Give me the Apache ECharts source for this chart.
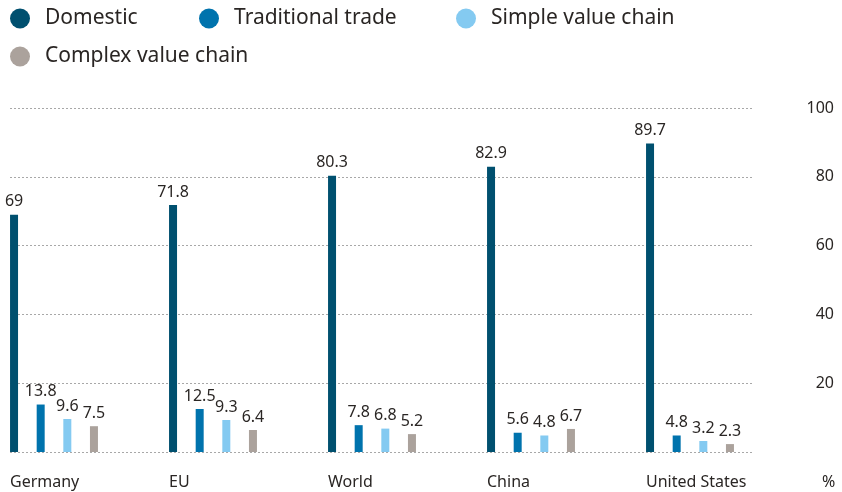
<!DOCTYPE html>
<html><head><meta charset="utf-8">
<script src="https://cdn.jsdelivr.net/npm/echarts@6/dist/echarts.min.js"></script>
<style>html,body{margin:0;padding:0;background:#fff}#c{width:842px;height:492px}</style>
</head><body><div id="c"></div>
<script>
const categories = ['Germany', 'EU', 'World', 'China', 'United States'];
const domestic = [69, 71.8, 80.3, 82.9, 89.7];
const traditionalTrade = [13.8, 12.5, 7.8, 5.6, 4.8];
const simpleValueChain = [9.6, 9.3, 6.8, 4.8, 3.2];
const complexValueChain = [7.5, 6.4, 5.2, 6.7, 2.3];
const yTicks = [0, 20, 40, 60, 80, 100];
const seriesNames = ['Domestic', 'Traditional trade', 'Simple value chain', 'Complex value chain'];
const colors = ['#00506f', '#0073ad', '#84caf1', '#aba29c'];

const FONT = '"Noto Sans", sans-serif';
const TXT = '#2a2624';
const chart = echarts.init(document.getElementById('c'), null, {renderer: 'canvas'});

function legendAt(name, left, top) {
  return {
    data: [name], left: left, top: top, orient: 'horizontal',
    icon: 'circle', itemWidth: 20, itemHeight: 20, padding: 0,
    selectedMode: false,
    textStyle: {fontFamily: FONT, fontSize: 21, color: TXT, padding: [0, 0, 0, 10]}
  };
}

const vals = [domestic, traditionalTrade, simpleValueChain, complexValueChain];
chart.setOption({
  animation: false,
  textStyle: {fontFamily: FONT},
  color: colors,
  title: {text: '%', left: 822, top: 474, textStyle: {fontFamily: FONT, fontSize: 16, fontWeight: 'normal', color: TXT}, padding: 0},
  legend: [
    legendAt(seriesNames[0], 10, 8),
    legendAt(seriesNames[1], 199, 8),
    legendAt(seriesNames[2], 456, 8),
    legendAt(seriesNames[3], 10, 46)
  ],
  grid: [
    {left: 54, width: 636, top: 108, bottom: 40},
    {left: 10, right: 89, top: 108, bottom: 40},
    {left: 10, width: 636, top: 108, bottom: 40}
  ],
  xAxis: [
    {type: 'category', gridIndex: 0, data: categories, boundaryGap: false, axisLine: {show: false}, axisTick: {show: false}, axisLabel: {show: false}},
    {type: 'category', gridIndex: 1, data: categories, show: false},
    {type: 'category', gridIndex: 2, data: categories, boundaryGap: false,
     axisLine: {show: false}, axisTick: {show: false},
     axisLabel: {align: 'left', margin: 22, fontFamily: FONT, fontSize: 16, color: TXT}}
  ],
  yAxis: [
    {type: 'value', gridIndex: 0, min: yTicks[0], max: yTicks[yTicks.length - 1], interval: 20, show: false},
    {type: 'value', gridIndex: 1, min: yTicks[0], max: yTicks[yTicks.length - 1], interval: 20, position: 'right',
     axisLine: {show: false}, axisTick: {show: false},
     splitLine: {show: true, lineStyle: {color: '#a8a8a8', width: 1, type: [2, 2]}},
     axisLabel: {align: 'right', margin: 81, fontFamily: FONT, fontSize: 16, color: TXT,
       formatter: v => v === 0 ? '' : String(v)}},
    {type: 'value', gridIndex: 2, min: 0, max: 100, show: false}
  ],
  series: seriesNames.map((n, i) => ({
    name: n, type: 'bar', xAxisIndex: 0, yAxisIndex: 0, clip: false,
    data: vals[i], barWidth: 8, barGap: '233%',
    itemStyle: {color: colors[i]},
    label: {show: true, position: 'top', distance: 5, fontFamily: FONT, fontSize: 16, color: TXT}
  }))
});
</script></body></html>
